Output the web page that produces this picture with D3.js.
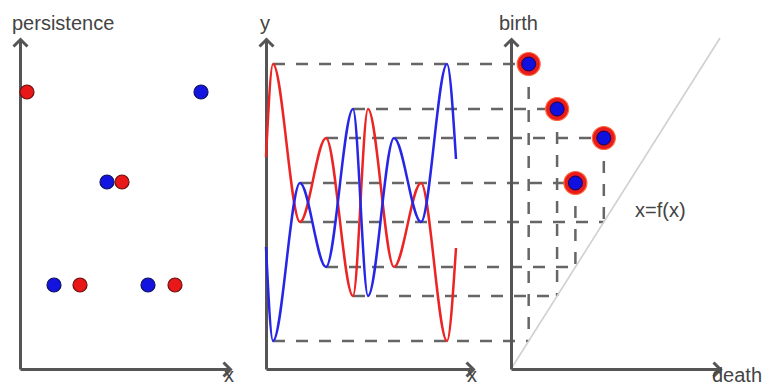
<!DOCTYPE html>
<html>
<head>
<meta charset="utf-8">
<script src="https://cdn.jsdelivr.net/npm/d3@7"></script>
<style>
  body { margin: 0; background: #fff; }
  text { font-family: "Liberation Sans", Arial, sans-serif; font-size: 20px; fill: #444; }
</style>
</head>
<body>
<svg id="root"></svg>
<script>
// positions along the signal where the two curves turn (start, extrema, end)
const stepX = [0, 7, 34, 60, 87, 102, 128, 155, 181, 190];
const redY = [212, 305, 147, 231, 73, 260, 102, 186, 28, 121];
const blueY = [122, 28, 186, 102, 260, 73, 231, 147, 305, 210];

// persistence pairs (birth = max level, death = min level)
const births = [305, 260, 231, 186];
const deaths = [28, 73, 147, 102];

const panelLabels = ["persistence", "y", "birth"];
const axisLabels = ["x", "x", "death"];

(function () {
  const W = 766, H = 387;
  const svg = d3.select("#root").attr("width", W).attr("height", H);

  const y = d3.scaleLinear().domain([0, 330]).range([369, 39]);
  const xLeft = d3.scaleLinear().domain([0, 210]).range([20, 230]);
  const xMid = d3.scaleLinear().domain([0, 207]).range([266, 473]);
  const xRight = d3.scaleLinear().domain([0, 331]).range([511, 720]);

  const axisColor = "#555";
  const dashColor = "#666";
  const red = "#ec2424", blue = "#2626e6";

  svg.append("defs").append("marker")
    .attr("id", "arrow")
    .attr("viewBox", "-10 -10 20 20")
    .attr("markerWidth", 20).attr("markerHeight", 20)
    .attr("markerUnits", "userSpaceOnUse")
    .attr("refX", 0).attr("refY", 0)
    .attr("orient", "auto")
    .style("overflow", "visible")
    .append("path")
    .attr("d", "M-7,-7L0,0L-7,7")
    .attr("fill", "none")
    .attr("stroke", axisColor)
    .attr("stroke-width", 3);

  // helpers to look up where a level is reached
  function extremaX(level) {
    let xs = [];
    for (let i = 1; i < stepX.length - 1; i++) {
      if (redY[i] === level || blueY[i] === level) xs.push(stepX[i]);
    }
    return xs;
  }
  function peakX(series, level) {
    let i = series.indexOf(level);
    return stepX[i];
  }

  // ---- dashed guide lines (middle -> right) ----
  let guides = svg.append("g")
    .attr("stroke", dashColor)
    .attr("stroke-width", 2.5)
    .attr("stroke-dasharray", "12,11")
    .attr("fill", "none");

  births.forEach((b, i) => {
    let d = deaths[i];
    let xd = xRight(d);
    guides.append("line")
      .attr("x1", xMid(d3.min(extremaX(b)))).attr("x2", xd)
      .attr("y1", y(b)).attr("y2", y(b));
    guides.append("line")
      .attr("x1", xMid(d3.min(extremaX(d)))).attr("x2", xd)
      .attr("y1", y(d)).attr("y2", y(d));
    guides.append("line")
      .attr("x1", xd).attr("x2", xd)
      .attr("y1", y(b)).attr("y2", y(d));
  });

  // diagonal x = f(x)
  svg.append("line")
    .attr("x1", xRight(0)).attr("y1", y(0))
    .attr("x2", xRight(331)).attr("y2", y(331))
    .attr("stroke", "#d0d0d0")
    .attr("stroke-width", 1.6);

  // ---- axes ----
  function drawAxes(xs, xMax) {
    let gx = svg.append("g")
      .attr("transform", `translate(0,${y(0)})`)
      .call(d3.axisBottom(xs.copy().domain([0, xMax])).tickValues([]).tickSizeOuter(0));
    let gy = svg.append("g")
      .attr("transform", `translate(${xs(0)},0)`)
      .call(d3.axisLeft(y).tickValues([]).tickSizeOuter(0));
    [gx, gy].forEach(g => g.select(".domain")
      .attr("stroke", axisColor)
      .attr("stroke-width", 3)
      .attr("marker-end", "url(#arrow)"));
  }
  drawAxes(xLeft, 210);
  drawAxes(xMid, 207);
  drawAxes(xRight, 331);

  // ---- middle: the two signals ----
  let line = d3.line()
    .x((d, i) => xMid(stepX[i]))
    .y(d => y(d))
    .curve(d3.curveMonotoneX);

  svg.append("path").datum(redY)
    .attr("d", line).attr("fill", "none")
    .attr("stroke", red).attr("stroke-width", 2.5);
  svg.append("path").datum(blueY)
    .attr("d", line).attr("fill", "none")
    .attr("stroke", blue).attr("stroke-width", 2.5);

  // ---- left: persistence vs location ----
  let leftPts = [];
  births.forEach((b, i) => {
    let p = b - deaths[i];
    leftPts.push({ x: peakX(blueY, b), p: p, c: "#1414e0", s: "#101060" });
    leftPts.push({ x: peakX(redY, b), p: p, c: "#e81818", s: "#6a1010" });
  });
  svg.selectAll(".lp")
    .data(leftPts)
    .enter().append("circle")
    .attr("class", "lp")
    .attr("cx", d => xLeft(d.x))
    .attr("cy", d => y(d.p))
    .attr("r", 7)
    .attr("fill", d => d.c)
    .attr("stroke", d => d.s)
    .attr("stroke-width", 1.2);

  // ---- right: persistence diagram ----
  let rp = svg.selectAll(".rp")
    .data(births.map((b, i) => ({ b: b, d: deaths[i] })))
    .enter().append("g")
    .attr("class", "rp")
    .attr("transform", d => `translate(${xRight(d.d)},${y(d.b)})`);
  rp.append("circle").attr("r", 11.5)
    .attr("fill", "#e81c1c").attr("stroke", "#ff6a3a").attr("stroke-width", 1.2);
  rp.append("circle").attr("r", 7)
    .attr("fill", "#1010e0").attr("stroke", "#200040").attr("stroke-width", 1);

  // ---- labels ----
  svg.append("text").attr("x", 12).attr("y", 30).text(panelLabels[0]);
  svg.append("text").attr("x", 260).attr("y", 30).text(panelLabels[1]);
  svg.append("text").attr("x", 499).attr("y", 30).text(panelLabels[2]);
  svg.append("text").attr("x", 635).attr("y", 217).text("x=f(x)");
  svg.append("text").attr("x", 224).attr("y", 382).text(axisLabels[0]);
  svg.append("text").attr("x", 467).attr("y", 382).text(axisLabels[1]);
  svg.append("text").attr("x", 712).attr("y", 382).text(axisLabels[2]);
})();
</script>
</body>
</html>
